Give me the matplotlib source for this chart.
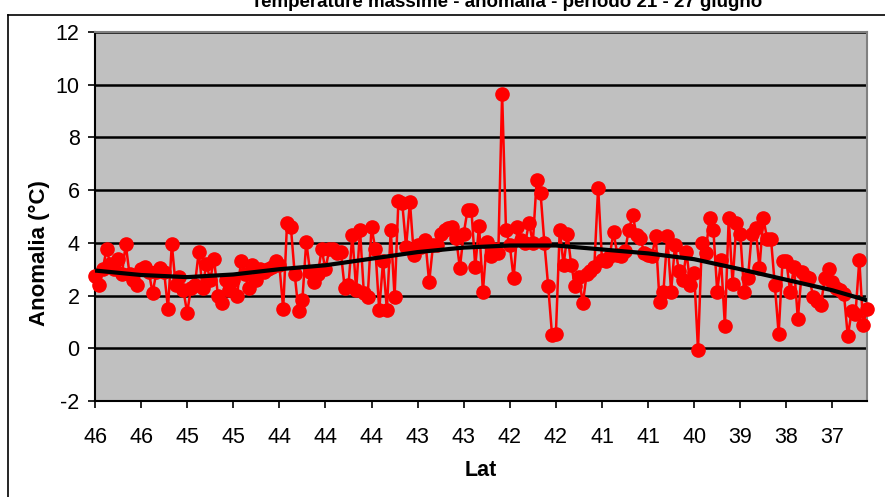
import numpy as np
import matplotlib
matplotlib.use("Agg")
import matplotlib.pyplot as plt
from matplotlib.lines import Line2D

plt.rcParams['font.family'] = ['Liberation Sans', 'DejaVu Sans']

# anomaly values, north to south
anomalia = [
    2.75, 2.4, 3.0, 3.75, 3.2, 3.0, 3.4, 2.8, 3.95, 2.8,
    2.6, 2.4, 3.0, 3.1, 2.9, 2.1, 2.9, 3.05, 2.9, 1.5,
    3.95, 2.4, 2.7, 2.2, 1.35, 2.3, 2.4, 3.65, 2.3, 3.2,
    2.6, 3.4, 2.0, 1.7, 2.6, 2.2, 2.6, 2.0, 3.3, 2.8,
    2.3, 3.15, 2.6, 3.0, 2.9, 3.0, 3.1, 3.3, 3.15, 1.5,
    4.75, 4.6, 2.8, 1.4, 1.85, 4.05, 2.9, 2.5, 2.8, 3.75,
    3.0, 3.75, 3.75, 3.6, 3.65, 2.3, 2.4, 4.3, 2.2, 4.5,
    2.1, 1.95, 4.6, 3.75, 1.45, 3.3, 1.45, 4.5, 1.95, 5.6,
    5.5, 3.85, 5.55, 3.55, 3.9, 3.85, 4.1, 2.5, 3.9, 3.9,
    4.35, 4.5, 4.55, 4.6, 4.2, 3.05, 4.35, 5.25, 5.25, 3.1,
    4.65, 2.15, 4.05, 3.5, 3.75, 3.6, 9.65, 4.5, 3.9, 2.65,
    4.6, 4.1, 4.0, 4.75, 4.0, 6.4, 5.9, 4.0, 2.35, 0.5,
    0.55, 4.5, 3.15, 4.35, 3.15, 2.35, 2.7, 1.7, 2.8, 2.95,
    3.1, 6.1, 3.35, 3.3, 3.5, 4.4, 3.55, 3.5, 3.7, 4.5,
    5.05, 4.3, 4.2, 3.6, 3.55, 3.5, 4.25, 1.75, 2.15, 4.25,
    2.15, 3.9, 2.95, 2.6, 3.65, 2.4, 2.85, -0.05, 4.0, 3.6,
    4.95, 4.5, 2.15, 3.35, 0.85, 4.95, 2.45, 4.75, 4.35, 2.15,
    2.65, 4.35, 4.55, 3.05, 4.95, 4.15, 4.15, 2.4, 0.55, 3.3,
    3.3, 2.15, 3.1, 1.1, 2.9, 2.7, 2.65, 1.95, 1.8, 1.65,
    2.65, 3.0, 2.5, 2.3, 2.2, 2.05, 0.45, 1.4, 1.3, 3.35,
    0.9, 1.5,
]

# trend line values read at each labelled tick, plus the last station
trend_idx = [0, 12, 24, 36, 48, 60, 72, 84, 96, 108, 120, 132, 144, 156, 168, 180, 192, 201]
trend_val = [2.95, 2.78, 2.7, 2.8, 3.0, 3.15, 3.4, 3.65, 3.82, 3.9, 3.9, 3.75, 3.6, 3.38,
             3.0, 2.6, 2.2, 1.82]

tick_labels = ['46', '46', '45', '45', '44', '44', '44', '43', '43', '42', '42',
               '41', '41', '40', '39', '38', '37']
y_ticks = [-2, 0, 2, 4, 6, 8, 10, 12]

W, H = 885, 497
fig = plt.figure(figsize=(W / 100, H / 100), dpi=100)
ax = fig.add_axes([95 / W, (H - 401) / H, (867 - 95) / W, (401 - 32) / H])
ax.set_facecolor('#C0C0C0')

x = np.arange(len(anomalia))
ax.plot(x, anomalia, color='#FF0000', lw=1.8, marker='o', markersize=9.5,
        markeredgecolor='#FF0000', clip_on=False, zorder=3)
ax.plot(trend_idx, trend_val, color='black', lw=3.0, zorder=4, solid_capstyle='butt')

ax.set_xlim(0, len(anomalia) - 1)
ax.set_ylim(-2, 12)
ax.set_yticks(y_ticks)
ax.set_yticklabels([str(v) for v in y_ticks])
ax.set_xticks(np.arange(0, 12 * len(tick_labels), 12))
ax.set_xticklabels(tick_labels)
ax.grid(axis='y', color='black', lw=1.8)
ax.set_axisbelow(True)

for s in ['top', 'right']:
    ax.spines[s].set_color('#808080')
    ax.spines[s].set_linewidth(1.5)
for s in ['left', 'bottom']:
    ax.spines[s].set_color('black')
    ax.spines[s].set_linewidth(1.5)

ax.tick_params(axis='both', labelsize=15.5, length=5, width=1.2, color='black', direction='out')
ax.tick_params(axis='x', pad=14)
ax.tick_params(axis='y', pad=6)

ax.set_xlabel('Lat', fontsize=15.5, fontweight='bold', labelpad=8)
ax.set_ylabel('Anomalia (°C)', fontsize=16, fontweight='bold')
ax.yaxis.set_label_coords(-0.058, 0.40)

# chart frame and cut-off title
fig.add_artist(Line2D([8 / W, 8 / W], [0, 1 - 15 / H], color='black', lw=1.2,
                      transform=fig.transFigure))
fig.add_artist(Line2D([8 / W, 1], [1 - 15 / H, 1 - 15 / H], color='black', lw=1.2,
                      transform=fig.transFigure))
fig.text(507 / W, 1 - 7 / H, 'Temperature massime - anomalia - periodo 21 - 27 giugno',
         ha='center', va='baseline', fontsize=13.5, fontweight='bold')

fig.savefig('out.png', dpi=100)
